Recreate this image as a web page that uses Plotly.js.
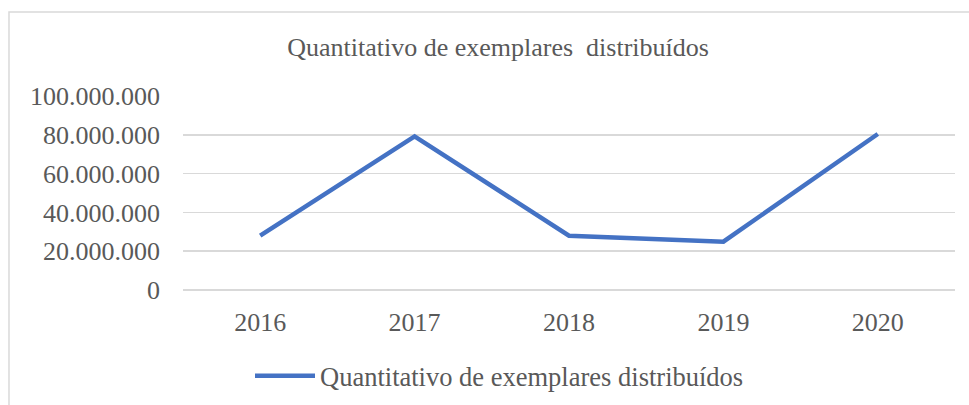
<!DOCTYPE html>
<html>
<head>
<meta charset="utf-8">
<script src="https://cdn.plot.ly/plotly-3.0.1.min.js"></script>
<style>html,body{margin:0;padding:0;background:#fff;}#chart{width:969px;height:405px;}</style>
</head>
<body>
<div id="chart"></div>
<script>
const years = ["2016", "2017", "2018", "2019", "2020"];
const exemplares = [28000000, 79200000, 28000000, 24900000, 80400000];
const yTickVals = [0, 20000000, 40000000, 60000000, 80000000, 100000000];
const yTickText = ["0", "20.000.000", "40.000.000", "60.000.000", "80.000.000", "100.000.000"];
const seriesName = "Quantitativo de exemplares distribuídos";
const chartTitle = "Quantitativo de exemplares&nbsp; distribuídos";

const textColor = "#595959";
const fontFam = "Liberation Serif, Times New Roman, serif";

const trace = {
  x: years,
  y: exemplares,
  type: "scatter",
  mode: "lines",
  name: seriesName,
  line: {color: "#4472C4", width: 4.5},
  hoverinfo: "x+y"
};

const layout = {
  width: 969,
  height: 405,
  margin: {l: 183, r: 14, t: 96, b: 115},
  paper_bgcolor: "#ffffff",
  plot_bgcolor: "#ffffff",
  font: {family: fontFam, color: textColor, size: 26},
  title: {
    text: chartTitle,
    font: {family: fontFam, color: textColor, size: 26},
    x: 0.514, xref: "container", xanchor: "center",
    y: 0.884, yref: "container", yanchor: "middle"
  },
  xaxis: {
    type: "category",
    range: [-0.5, 4.5],
    showgrid: false,
    zeroline: false,
    showline: false,
    ticks: "",
    tickfont: {family: fontFam, color: textColor, size: 26},
    ticklabelstandoff: 14,
    automargin: false,
    fixedrange: true
  },
  yaxis: {
    range: [0, 100000000],
    tickvals: yTickVals,
    ticktext: yTickText,
    showgrid: true,
    gridcolor: "#d9d9d9",
    gridwidth: 1.5,
    zeroline: true,
    zerolinecolor: "#d9d9d9",
    zerolinewidth: 1.5,
    showline: false,
    ticks: "",
    tickfont: {family: fontFam, color: textColor, size: 26},
    ticklabelstandoff: 22,
    automargin: false,
    fixedrange: true
  },
  showlegend: true,
  legend: {
    orientation: "h",
    x: 0.258, xref: "container", xanchor: "left",
    y: 0.0716, yref: "container", yanchor: "middle",
    font: {family: fontFam, color: textColor, size: 26.5},
    itemwidth: 60,
    bgcolor: "rgba(0,0,0,0)"
  },
  shapes: [{
    type: "rect",
    xref: "paper", yref: "paper",
    x0: -0.2254, x1: 1.2, y0: -1.5, y1: 1.433,
    line: {color: "#d9d9d9", width: 1.5},
    fillcolor: "rgba(0,0,0,0)",
    layer: "below"
  }]
};

Plotly.newPlot("chart", [trace], layout, {displayModeBar: false, staticPlot: true});
</script>
</body>
</html>
